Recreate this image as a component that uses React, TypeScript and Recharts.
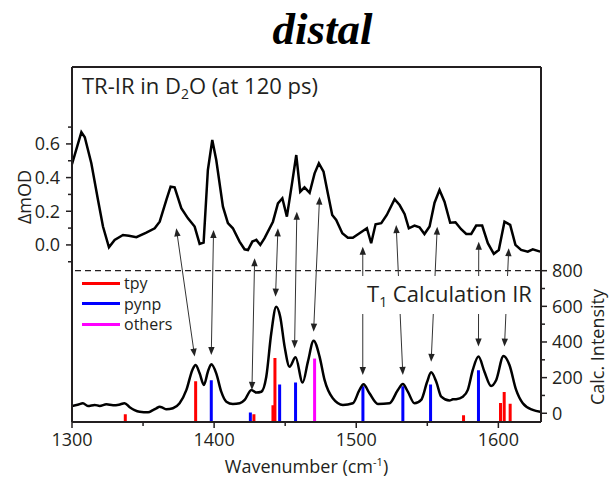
import React from 'react';
import { ComposedChart, Line, XAxis, YAxis, ReferenceLine, Legend } from 'recharts';

const FONT = '"Open Sans", "Noto Sans", sans-serif';
const INK = '#231f20';

// ---- TR-IR in D2O (at 120 ps), left axis (ΔmOD) ----
const trirWavenumber = [
  1300, 1306.6, 1309, 1313.6, 1318.3, 1321.8, 1326, 1330, 1335.9, 1340, 1345.3, 1352.3, 1358.2,
  1361.7, 1366.4, 1369.4, 1372.2, 1376.9, 1381.6, 1386.3, 1389.8, 1392.6, 1395.6, 1398.7, 1401.5,
  1406.2, 1409.7, 1413.2, 1417.9, 1421.4, 1423.8, 1426.9, 1429.7, 1432.5, 1435.5, 1441.4, 1444.9,
  1448, 1451.2, 1455, 1457.8, 1460.6, 1463.6, 1467.2, 1470.7, 1473.7, 1477, 1480, 1483.1, 1485.9,
  1490.2, 1494.1, 1497.6, 1502.3, 1507.5, 1510.5, 1513.6, 1517.6, 1521.5, 1527, 1530.5, 1534, 1537,
  1541, 1544.5, 1548, 1551.6, 1555.1, 1558.6, 1562.1, 1566.1, 1569.8, 1573.8, 1577.4, 1580.9,
  1584.4, 1588.6, 1592.6, 1596.8, 1600.3, 1604.3, 1608.3, 1612, 1616, 1620.7, 1624.2, 1629.4,
];
const trirDeltaMOD = [
  0.48, 0.67, 0.64, 0.485, 0.267, 0.109, -0.014, 0.03, 0.059, 0.055, 0.046, 0.073, 0.099,
  0.138, 0.267, 0.346, 0.342, 0.218, 0.158, 0.109, 0.006, 0.014, 0.445, 0.623, 0.504,
  0.227, 0.129, 0.099, 0.02, -0.026, -0.03, 0.02, 0.03, 0.0, 0.04, 0.138, 0.247,
  0.277, 0.168, 0.376, 0.534, 0.316, 0.342, 0.31, 0.425, 0.485, 0.435, 0.307, 0.178, 0.148,
  0.069, 0.043, 0.043, 0.069, 0.099, 0.01, 0.123, 0.129, 0.178, 0.271, 0.237, 0.184, 0.099,
  0.115, 0.105, 0.065, 0.109, 0.251, 0.326, 0.257, 0.132, 0.135, 0.093, 0.065, 0.065,
  0.115, 0.115, 0.01, -0.053, -0.03, 0.138, 0.119, 0.0, -0.03, -0.04, -0.026, -0.04,
];

// ---- T1 calculation IR, right axis (Calc. Intensity) ----
const calcWavenumber = [
  1300, 1304, 1307.7, 1311.2, 1316, 1319.5, 1324.2, 1328.9, 1333, 1337, 1340.6, 1344, 1347.6,
  1353.5, 1357, 1359.4, 1361.7, 1364, 1366.4, 1371, 1375.7, 1380.5, 1384.7, 1387, 1389.8, 1392.8,
  1395.6, 1398, 1401.5, 1405, 1408.6, 1413.2, 1418, 1421.5, 1426.2, 1429.7, 1433.2, 1436.7,
  1440.2, 1443.7, 1446.5, 1449.6, 1453.1, 1457.3, 1462.3, 1466, 1470, 1474.2, 1477.7, 1483.5,
  1490.6, 1497.6, 1502.3, 1505.1, 1509.3, 1515.2, 1523.4, 1529.3, 1532.8, 1536.3, 1541, 1545.7,
  1549.9, 1552.7, 1556.3, 1559.8, 1565.6, 1568, 1570.3, 1575, 1578.5, 1582, 1586, 1590.2, 1594.9,
  1598.5, 1603.6, 1607.8, 1612.5, 1617.2, 1624.2, 1629.4,
];
const calcIntensity = [
  41, 48, 56, 41, 47, 41, 50, 45, 48, 56, 34, 18, 9,
  6, 18, 28, 37, 30, 22, 28, 56, 131, 243, 271, 224, 159,
  233, 275, 224, 121, 65, 52, 56, 75, 131, 116, 121, 205,
  449, 598, 542, 374, 261, 314, 172, 290, 407, 318, 187, 84,
  47, 56, 131, 163, 112, 52, 56, 131, 164, 121, 56, 75,
  177, 230, 177, 93, 71, 78, 79, 93, 131, 243, 318, 233, 153,
  187, 321, 271, 131, 56, 19, 9,
];

// ---- calculated stick spectrum (height above the frame bottom) ----
const tpyWavenumber = [1337.5, 1387.0, 1428.0, 1441.4, 1442.8, 1575.5, 1601.5, 1604.1, 1608.3];
const tpyIntensity = [43, 228, 43, 94, 359, 38, 107, 168, 103];
const pynpWavenumber = [1398.0, 1425.5, 1446.1, 1457.3, 1504.7, 1532.8, 1552.3, 1586.0];
const pynpIntensity = [234, 53, 210, 221, 200, 200, 211, 290];
const othersWavenumber = [1470.7];
const othersIntensity = [356];

// ---- double-headed correlation arrows (x in cm-1, y in Calc. Intensity units) ----
const arrowUpperWn = [1373.4, 1399.6, 1428.5, 1444.9, 1458.2, 1474.2, 1504.6, 1528.1, 1557.0, 1586.2, 1607.3];
const arrowUpperLevel = [1038, 1028, 870, 1038, 1131, 1215, 935, 1056, 1047, 963, 926];
const arrowLowerWn = [1386.3, 1398.0, 1426.6, 1443.2, 1456.6, 1470.0, 1504.6, 1532.8, 1552.7, 1586.0, 1604.3];
const arrowLowerLevel = [318, 327, 131, 654, 365, 458, 215, 215, 289, 374, 374];

// ---- axes ----
const xDomain = [1300, 1630];
const leftDomain = [-1.052, 1.057];
const rightDomain = [-49, 1943];
const stickDomain = [0, 1992];
const xTicks = [1300, 1350, 1400, 1450, 1500, 1550, 1600];
const xTickLabels = [1300, 1400, 1500, 1600];
const leftTicks = [-0.1, 0, 0.1, 0.2, 0.3, 0.4, 0.5, 0.6, 0.7];
const leftTickLabels = [0, 0.2, 0.4, 0.6];
const rightTicks = [0, 100, 200, 300, 400, 500, 600, 700, 800];
const rightTickLabels = [0, 200, 400, 600, 800];
const dashedLevel = 800;

const legendNames = ['tpy', 'pynp', 'others'];
const legendColors = ['#ff0000', '#0000ff', '#ff00ff'];

const trirData = trirWavenumber.map((x, i) => ({ x, y: trirDeltaMOD[i] }));
const calcData = calcWavenumber.map((x, i) => ({ x, y: calcIntensity[i] }));
const sticks = (wn: number[], h: number[]) =>
  wn.flatMap((x, i) => [{ x, y: 0 }, { x, y: h[i] }, { x, y: null as number | null }]);
const tpyData = sticks(tpyWavenumber, tpyIntensity);
const pynpData = sticks(pynpWavenumber, pynpIntensity);
const othersData = sticks(othersWavenumber, othersIntensity);

const isIn = (arr: number[], v: number) => arr.some((a) => Math.abs(a - v) < 1e-6);

const LeftTick = (props: any) => {
  const { x, y, payload } = props;
  const v = payload.value as number;
  const major = isIn(leftTickLabels, v);
  return (
    <g>
      <line x1={x - (major ? 6 : 4)} x2={x} y1={y} y2={y} stroke={INK} strokeWidth={1.5} />
      {major && (
        <text x={x - 12} y={y} dy="0.36em" textAnchor="end" fontSize={18} fontFamily={FONT} fill={INK}>
          {v.toFixed(1)}
        </text>
      )}
    </g>
  );
};

const RightTick = (props: any) => {
  const { x, y, payload } = props;
  const v = payload.value as number;
  const major = isIn(rightTickLabels, v);
  return (
    <g>
      <line x1={x} x2={x + (major ? 6 : 4)} y1={y} y2={y} stroke={INK} strokeWidth={1.5} />
      {major && (
        <text x={x + 11} y={y} dy="0.36em" textAnchor="start" fontSize={18} fontFamily={FONT} fill={INK}>
          {v}
        </text>
      )}
    </g>
  );
};

const BottomTick = (props: any) => {
  const { x, y, payload } = props;
  const v = payload.value as number;
  const major = isIn(xTickLabels, v);
  return (
    <g>
      <line x1={x} x2={x} y1={y} y2={y + (major ? 6 : 4)} stroke={INK} strokeWidth={1.5} />
      {major && (
        <text x={x} y={y + 24} textAnchor="middle" fontSize={18} fontFamily={FONT} fill={INK}>
          {v}
        </text>
      )}
    </g>
  );
};

const Arrow = (props: any) => {
  const x1 = Number(props.x1), y1 = Number(props.y1), x2 = Number(props.x2), y2 = Number(props.y2);
  if (![x1, y1, x2, y2].every(Number.isFinite)) return <g />;
  const dx = x2 - x1, dy = y2 - y1;
  const L = Math.hypot(dx, dy) || 1;
  const ux = dx / L, uy = dy / L;
  const px = -uy, py = ux;
  const hl = 8, hw = 3.2;
  const head = (tx: number, ty: number, dx0: number, dy0: number) =>
    `${tx},${ty} ${tx - dx0 * hl + px * hw},${ty - dy0 * hl + py * hw} ${tx - dx0 * hl - px * hw},${ty - dy0 * hl - py * hw}`;
  return (
    <g>
      <line x1={x1 + ux * 6} y1={y1 + uy * 6} x2={x2 - ux * 6} y2={y2 - uy * 6} stroke="#333" strokeWidth={1} />
      <polygon points={head(x2, y2, ux, uy)} fill="#222" />
      <polygon points={head(x1, y1, -ux, -uy)} fill="#222" />
    </g>
  );
};

const LeftTitle = (props: any) => {
  const vb = props.viewBox || { x: 0, y: 67 };
  const cx = vb.x + 25, cy = vb.y + 130;
  return (
    <text x={cx} y={cy} transform={`rotate(-90 ${cx} ${cy})`} textAnchor="middle" dy="0.36em"
      fontSize={18} fontFamily={FONT} fill={INK}>ΔmOD</text>
  );
};

const RightTitle = (props: any) => {
  const vb = props.viewBox || { x: 541, y: 67 };
  const cx = vb.x + 57, cy = vb.y + 280;
  return (
    <text x={cx} y={cy} transform={`rotate(-90 ${cx} ${cy})`} textAnchor="middle" dy="0.36em"
      fontSize={18} fontFamily={FONT} fill={INK}>Calc. Intensity</text>
  );
};

const BottomTitle = (props: any) => {
  const vb = props.viewBox || { x: 72, y: 422, width: 469 };
  const cx = vb.x + vb.width / 2, by = vb.y + 51;
  return (
    <text x={cx} y={by} textAnchor="middle" fontSize={18} fontFamily={FONT} fill={INK}>
      Wavenumber (cm<tspan fontSize={11} dy={-7}>-1</tspan><tspan dy={7}>)</tspan>
    </text>
  );
};

const renderLegend = (props: any) => {
  const items = (props.payload || [])
    .filter((p: any) => legendNames.includes(p.value))
    .sort((a: any, b: any) => legendNames.indexOf(a.value) - legendNames.indexOf(b.value));
  return (
    <div style={{ fontFamily: FONT, fontSize: 16, color: INK }}>
      {items.map((it: any) => (
        <div key={it.value} style={{ display: 'flex', alignItems: 'center', height: 20.5 }}>
          <span style={{ display: 'inline-block', width: 38, height: 3, background: it.color, marginRight: 4 }} />
          <span style={{ lineHeight: '20px' }}>{it.value}</span>
        </div>
      ))}
    </div>
  );
};

export default function App() {
  return (
    <div style={{ position: 'absolute', left: 0, top: 0, width: 609, height: 479, background: '#fff' }}>
      <ComposedChart width={609} height={479} margin={{ top: 67, right: 0, bottom: 0, left: 0 }}>
        <XAxis
          dataKey="x"
          type="number"
          domain={xDomain}
          allowDataOverflow
          ticks={xTicks}
          interval={0}
          height={57}
          tickSize={0}
          tickMargin={0}
          tickLine={false}
          tick={<BottomTick />}
          axisLine={{ stroke: INK, strokeWidth: 2 }}
          label={{ content: BottomTitle }}
        />
        <YAxis
          yAxisId="left"
          type="number"
          domain={leftDomain}
          allowDataOverflow
          ticks={leftTicks}
          interval={0}
          width={72}
          tickSize={0}
          tickMargin={0}
          tickLine={false}
          tick={<LeftTick />}
          axisLine={{ stroke: INK, strokeWidth: 2 }}
          label={{ content: LeftTitle }}
        />
        <YAxis
          yAxisId="right"
          orientation="right"
          type="number"
          domain={rightDomain}
          allowDataOverflow
          ticks={rightTicks}
          interval={0}
          width={68}
          tickSize={0}
          tickMargin={0}
          tickLine={false}
          tick={<RightTick />}
          axisLine={{ stroke: INK, strokeWidth: 2 }}
          label={{ content: RightTitle }}
        />
        <YAxis yAxisId="stick" orientation="right" type="number" domain={stickDomain} allowDataOverflow hide />

        <Line yAxisId="stick" data={tpyData} dataKey="y" name={legendNames[0]} stroke={legendColors[0]}
          strokeWidth={3} strokeLinecap="butt" dot={false} activeDot={false} isAnimationActive={false} type="linear" />
        <Line yAxisId="stick" data={pynpData} dataKey="y" name={legendNames[1]} stroke={legendColors[1]}
          strokeWidth={3} strokeLinecap="butt" dot={false} activeDot={false} isAnimationActive={false} type="linear" />
        <Line yAxisId="stick" data={othersData} dataKey="y" name={legendNames[2]} stroke={legendColors[2]}
          strokeWidth={3} strokeLinecap="butt" dot={false} activeDot={false} isAnimationActive={false} type="linear" />

        <Line yAxisId="left" data={trirData} dataKey="y" name="TR-IR" legendType="none" stroke="#000"
          strokeWidth={2.5} dot={false} activeDot={false} isAnimationActive={false} type="linear" />
        <Line yAxisId="right" data={calcData} dataKey="y" name="Calc" legendType="none" stroke="#000"
          strokeWidth={2.5} dot={false} activeDot={false} isAnimationActive={false} type="monotone" />

        {/* top border of the frame */}
        <ReferenceLine yAxisId="right" y={rightDomain[1]} stroke={INK} strokeWidth={2} ifOverflow="visible" />
        <ReferenceLine yAxisId="right" y={dashedLevel} stroke={INK} strokeWidth={1.3} strokeDasharray="6 4" />
        {arrowUpperWn.map((wn, i) => (
          <ReferenceLine
            key={i}
            yAxisId="right"
            segment={[{ x: wn, y: arrowUpperLevel[i] }, { x: arrowLowerWn[i], y: arrowLowerLevel[i] }]}
            shape={Arrow}
          />
        ))}

        <Legend
          layout="vertical"
          align="center"
          verticalAlign="middle"
          content={renderLegend}
          wrapperStyle={{ left: 82, top: 273, width: 'auto', height: 'auto' }}
        />
      </ComposedChart>

      <svg width={609} height={479} style={{ position: 'absolute', left: 0, top: 0, pointerEvents: 'none' }}>
        <text x={322.5} y={44} textAnchor="middle" fontFamily='"Liberation Serif", "DejaVu Serif", serif'
          fontWeight="bold" fontStyle="italic" fontSize={45} fill="#000">distal</text>
        <text x={82} y={94} fontFamily={FONT} fontSize={22} fill={INK}>
          TR-IR in D<tspan fontSize={14} dy={5}>2</tspan><tspan dy={-5}>O (at 120 ps)</tspan>
        </text>
        <rect x={360} y={276} width={177} height={38} fill="#fff" />
        <text x={367} y={302} fontFamily={FONT} fontSize={22} fill={INK}>
          T<tspan fontSize={14} dy={5}>1</tspan><tspan dy={-5}> Calculation IR</tspan>
        </text>
      </svg>
    </div>
  );
}
